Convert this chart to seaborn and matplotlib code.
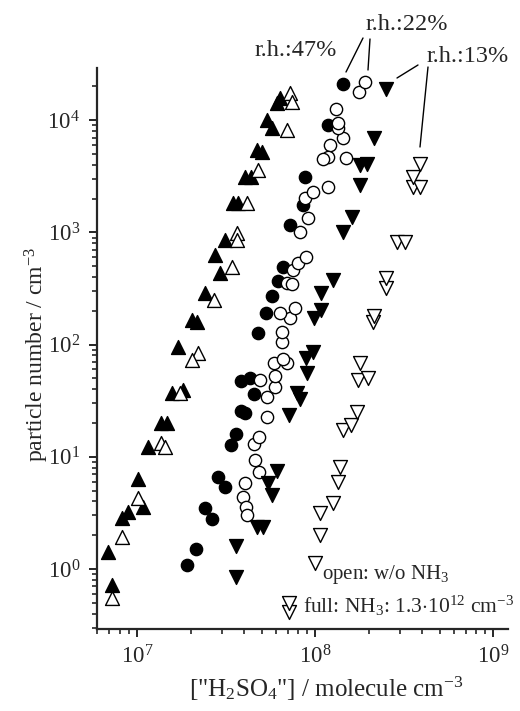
import matplotlib
matplotlib.use("Agg")
import matplotlib.pyplot as plt
import seaborn as sns
import pandas as pd
import numpy as np
from matplotlib.ticker import LogLocator, NullFormatter

sns.set_style("ticks")
plt.rcParams['font.family'] = ['Liberation Serif', 'DejaVu Serif']
plt.rcParams['mathtext.fontset'] = 'custom'
plt.rcParams['mathtext.rm'] = 'Liberation Serif'
plt.rcParams['mathtext.it'] = 'Liberation Serif:italic'

# r.h. 47 %, with NH3 (filled up-triangles)
rh47_nh3_x = [6.87e6, 7.24e6, 8.24e6, 8.90e6, 1.08e7, 1.01e7, 1.15e7, 1.36e7, 1.47e7, 1.57e7,
              1.81e7, 1.70e7, 2.04e7, 2.17e7, 2.41e7, 2.92e7, 2.74e7, 3.12e7, 3.46e7, 3.69e7,
              4.05e7, 4.37e7, 4.72e7, 5.04e7, 5.38e7, 5.73e7, 6.12e7, 6.36e7]
rh47_nh3_y = [1.42, 0.72, 2.85, 3.2, 3.6, 6.3, 12.2, 20.0, 20.0, 37,
              39, 95, 165, 159, 287, 433, 627, 853, 1820, 1820,
              3100, 3100, 5400, 5200, 10000, 8500, 14200, 15700]
# r.h. 47 %, without NH3 (open up-triangles)
rh47_x = [7.24e6, 8.24e6, 1.01e7, 1.36e7, 1.44e7, 1.74e7, 2.20e7, 2.04e7, 2.71e7, 3.42e7,
          3.65e7, 3.65e7, 4.15e7, 4.78e7, 6.96e7, 7.24e7, 7.43e7]
rh47_y = [0.55, 1.93, 4.3, 13.3, 12.2, 37, 84, 73, 249, 490,
          985, 853, 1820, 3590, 8100, 17400, 14500]
# r.h. 22 %, with NH3 (filled circles)
rh22_nh3_x = [1.91e7, 2.14e7, 2.41e7, 2.64e7, 2.85e7, 3.12e7, 3.37e7, 3.60e7, 3.84e7, 4.05e7,
              3.84e7, 4.32e7, 4.54e7, 4.78e7, 5.31e7, 5.73e7, 6.20e7, 6.61e7, 7.24e7, 8.57e7,
              8.79e7, 1.18e8, 1.44e8]
rh22_nh3_y = [1.09, 1.51, 3.5, 2.79, 6.6, 5.4, 12.7, 16.0, 25.6, 24.5,
              47, 50, 36, 127, 191, 270, 368, 490, 1160, 1750,
              3100, 9000, 20900]
# r.h. 22 %, without NH3 (open circles)
rh22_x = [4.60e7, 4.85e7, 4.05e7, 3.94e7, 4.10e7, 4.15e7, 4.54e7, 4.85e7, 5.38e7, 5.38e7,
          5.96e7, 4.91e7, 5.96e7, 5.88e7, 6.96e7, 6.61e7, 6.53e7, 6.53e7, 7.24e7, 6.36e7,
          7.72e7, 6.96e7, 7.43e7, 7.52e7, 8.02e7, 8.90e7, 8.24e7, 9.14e7, 8.79e7, 9.75e7,
          1.18e8, 1.21e8, 1.18e8, 1.11e8, 1.49e8, 1.44e8, 1.35e8, 1.35e8, 1.31e8, 1.77e8,
          1.91e8]
rh22_y = [9.36, 7.3, 5.8, 4.38, 3.6, 3.0, 13.0, 15.0, 22.6, 34,
          42, 48, 52, 68, 68, 74, 105, 129, 172, 191,
          211, 353, 346, 461, 532, 602, 1000, 1340, 2020, 2280,
          2530, 6000, 4700, 4500, 4600, 6900, 8500, 9400, 12500, 17800,
          21800]
# r.h. 13 %, with NH3 (filled down-triangles)
rh13_nh3_x = [3.60e7, 3.60e7, 4.72e7, 5.10e7, 5.73e7, 5.45e7, 6.12e7, 7.14e7, 8.24e7, 7.92e7,
              9.01e7, 8.90e7, 9.75e7, 9.87e7, 1.08e8, 1.08e8, 1.26e8, 1.44e8, 1.61e8, 1.79e8,
              1.79e8, 1.96e8, 2.14e8, 2.50e8]
rh13_nh3_y = [0.85, 1.60, 2.37, 2.37, 4.6, 5.8, 7.5, 23.6, 33, 37,
              56, 76, 86, 172, 203, 287, 375, 1000, 1370, 2640,
              4000, 4100, 6900, 18900]
# r.h. 13 %, without NH3 (open down-triangles)
rh13_x = [7.14e7, 7.14e7, 1.0e8, 1.07e8, 1.07e8, 1.26e8, 1.35e8, 1.38e8, 1.44e8, 1.59e8,
          1.72e8, 1.75e8, 1.99e8, 1.79e8, 2.12e8, 2.14e8, 2.50e8, 2.50e8, 2.89e8, 3.21e8,
          3.55e8, 3.89e8, 3.55e8, 3.89e8]
rh13_y = [0.41, 0.50, 1.13, 2.0, 3.15, 3.9, 5.96, 8.1, 17.3, 19.2,
          25.0, 48, 50, 68, 159, 179, 319, 391, 819, 819,
          2530, 2530, 3100, 4100]

series = [
    (rh47_nh3_x, rh47_nh3_y, '^', 'black', 100),
    (rh47_x, rh47_y, '^', 'white', 100),
    (rh22_nh3_x, rh22_nh3_y, 'o', 'black', 78),
    (rh22_x, rh22_y, 'o', 'white', 78),
    (rh13_nh3_x, rh13_nh3_y, 'v', 'black', 100),
    (rh13_x, rh13_y, 'v', 'white', 100),
]

fig = plt.figure(figsize=(5.2, 7.11), dpi=100)
ax = fig.add_axes([0.1865, 0.1153, 0.7905, 0.7887])

for xs, ys, mk, fc, sz in series:
    df = pd.DataFrame({'x': xs, 'y': ys})
    sns.scatterplot(data=df, x='x', y='y', marker=mk, s=sz, color=fc,
                    edgecolor='black', linewidth=1.0, ax=ax, legend=False, zorder=3)

ax.set_xscale('log')
ax.set_yscale('log')
ax.set_xlim(5.96e6, 1.21e9)
ax.set_ylim(0.292, 2.9e4)

ax.xaxis.set_minor_locator(LogLocator(base=10, subs=np.arange(2, 10), numticks=20))
ax.yaxis.set_minor_locator(LogLocator(base=10, subs=np.arange(2, 10), numticks=20))
ax.xaxis.set_minor_formatter(NullFormatter())
ax.yaxis.set_minor_formatter(NullFormatter())

for s in ['top', 'right']:
    ax.spines[s].set_visible(False)
for s in ['left', 'bottom']:
    ax.spines[s].set_linewidth(1.6)
ax.tick_params(which='major', direction='out', length=6, width=1.4, labelsize=16.5, pad=6)
ax.tick_params(which='minor', direction='out', length=3.5, width=1.2)

ax.set_xlabel('["H$_2$SO$_4$"] / molecule cm$^{-3}$', fontsize=18)
ax.set_ylabel('particle number / cm$^{-3}$', fontsize=17)
ax.xaxis.set_label_coords((326 - 97) / 411, -0.082)
ax.yaxis.set_label_coords(-0.112, 0.49)

# annotations
fs = 17.5
fig.text(255/520, 1 - 51/711, 'r.h.:47%', fontsize=fs, ha='left', va='center')
fig.text(366/520, 1 - 25/711, 'r.h.:22%', fontsize=fs, ha='left', va='center')
fig.text(427/520, 1 - 56/711, 'r.h.:13%', fontsize=fs, ha='left', va='center')

def pline(x0, y0, x1, y1):
    fig.add_artist(plt.Line2D([x0/520, x1/520], [1 - y0/711, 1 - y1/711],
                              color='black', linewidth=1.0))

pline(363, 38, 346, 72)
pline(370, 39, 368, 70)
pline(418, 65, 397, 78)
pline(428, 67, 420, 147)

ax.text(0.548, 0.098, 'open: w/o NH$_3$', transform=ax.transAxes, fontsize=15,
        ha='left', va='center')
ax.text(0.5, 0.042, 'full: NH$_3$: 1.3$\\cdot$10$^{12}$ cm$^{-3}$', transform=ax.transAxes,
        fontsize=15.5, ha='left', va='center')

fig.savefig('out.png', dpi=100)
